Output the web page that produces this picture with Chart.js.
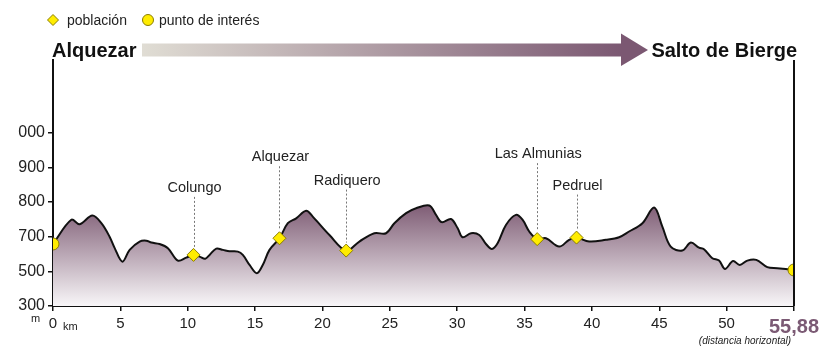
<!DOCTYPE html>
<html>
<head>
<meta charset="utf-8">
<script src="https://cdn.jsdelivr.net/npm/chart.js@4.4.0/dist/chart.umd.min.js"></script>
<style>
  html, body { margin: 0; padding: 0; background: #fff; }
</style>
</head>
<body>
<canvas id="perfil" width="823" height="347"></canvas>
<script>
// perfil de la etapa: distancia (km) y altitud (m)
var distancias = [0, 1.36, 1.98, 2.92, 3.59, 4.20, 4.58, 5.15, 5.69, 6.43, 6.93, 7.30, 7.91, 8.53, 9.27, 9.89,
  10.43, 10.88, 11.30, 11.62, 12.12, 12.61, 13.10, 13.72, 14.09, 14.59, 15.13, 15.57, 16.07, 16.81, 17.43,
  18.05, 18.79, 19.28, 20.52, 21.76, 22.74, 23.85, 24.72, 25.34, 26.21, 26.95, 27.93, 28.43, 28.85, 29.54,
  30.03, 30.40, 31.03, 31.64, 32.14, 32.58, 33.00, 33.62, 34.36, 34.85, 35.35, 35.94, 36.59, 37.57, 38.31,
  38.86, 39.80, 41.04, 42.02, 42.76, 43.75, 44.62, 45.23, 45.85, 46.71, 47.34, 47.95, 48.32, 48.94, 49.44,
  49.88, 50.56, 51.14, 51.81, 52.59, 53.55, 54.42, 55.88];
var altitudes = [658, 749, 736, 761, 739, 700, 634, 556, 624, 672, 677, 666, 658, 634, 562, 579,
  595, 585, 573, 595, 631, 624, 616, 614, 595, 537, 489, 537, 624, 691, 739,
  753, 775, 758, 705, 620, 672, 710, 710, 739, 768, 782, 790, 763, 742, 751,
  725, 697, 710, 705, 658, 629, 662, 734, 763, 749, 715, 686, 691, 643, 682,
  695, 672, 682, 697, 715, 739, 784, 729, 643, 620, 666, 637, 628, 576, 562,
  514, 560, 537, 562, 566, 524, 518, 508];

// marcas de los ejes (valor real y texto)
var ejeY = [300, 500, 700, 800, 900, 1000];
var ejeYTexto = ["300", "500", "700", "800", "900", "000"];
var ejeX = [0, 5, 10, 15, 20, 25, 30, 35, 40, 45, 50, 55.88];
var ejeXTexto = ["0", "5", "10", "15", "20", "25", "30", "35", "40", "45", "50", "55,88"];

// poblaciones del recorrido
var poblaciones = ["Colungo", "Alquezar", "Radiquero", "Las Almunias", "Pedruel"];
var poblacionesKm = [10.43, 16.81, 21.76, 35.94, 38.86];
var poblacionesAlt = [595, 691, 620, 686, 695];

// puntos de interés (salida y llegada)
var puntosKm = [0, 55.88];
var puntosAlt = [658, 508];

var inicio = "Alquezar";
var fin = "Salto de Bierge";
var leyenda = ["población", "punto de interés"];

var FUENTE = "'Liberation Sans', Arial, sans-serif";
var MORADO = "#7b5872";
var AMARILLO = "#ffec00";

// los ejes no son lineales: cada tramo entre marcas ocupa lo mismo
function tramo(v, marcas) {
  for (var i = 1; i < marcas.length; i++) {
    if (v <= marcas[i] || i === marcas.length - 1) {
      return i - 1 + (v - marcas[i - 1]) / (marcas[i] - marcas[i - 1]);
    }
  }
}
function puntos(kms, alts) {
  return kms.map(function (k, i) {
    return { x: tramo(k, ejeX), y: tramo(alts[i], ejeY) };
  });
}

// separación (px) entre cada rótulo y su marca
var alturaRotulo = [63, 77, 66, 81, 48];

var extras = {
  id: "extras",
  afterDatasetsDraw: function (chart) {
    var ctx = chart.ctx, a = chart.chartArea;
    var sx = chart.scales.x, sy = chart.scales.y;
    ctx.save();

    // rótulos de poblaciones con línea de puntos
    ctx.font = "14.5px " + FUENTE;
    ctx.fillStyle = "#222";
    ctx.textAlign = "center";
    ctx.textBaseline = "alphabetic";
    poblaciones.forEach(function (n, i) {
      var px = sx.getPixelForValue(tramo(poblacionesKm[i], ejeX));
      var py = sy.getPixelForValue(tramo(poblacionesAlt[i], ejeY));
      var base = py - alturaRotulo[i];
      ctx.fillText(n, px + 1, base);
      ctx.beginPath();
      ctx.setLineDash([2, 2]);
      ctx.strokeStyle = "#777";
      ctx.lineWidth = 1;
      ctx.moveTo(Math.round(px) + 0.5, base + 5);
      ctx.lineTo(Math.round(px) + 0.5, py - 8);
      ctx.stroke();
      ctx.setLineDash([]);
    });
    ctx.restore();
  },
  afterDraw: function (chart) {
    var ctx = chart.ctx, a = chart.chartArea;
    var sx = chart.scales.x;
    ctx.save();

    // eje derecho
    ctx.strokeStyle = "#111";
    ctx.lineWidth = 2;
    ctx.beginPath();
    ctx.moveTo(a.right, a.top);
    ctx.lineTo(a.right, a.bottom);
    ctx.stroke();

    // leyenda
    ctx.fillStyle = AMARILLO;
    ctx.strokeStyle = "#8a7c00";
    ctx.lineWidth = 1;
    ctx.beginPath();
    ctx.moveTo(53, 14.5); ctx.lineTo(58.5, 20); ctx.lineTo(53, 25.5); ctx.lineTo(47.5, 20);
    ctx.closePath(); ctx.fill(); ctx.stroke();
    ctx.beginPath();
    ctx.arc(148, 20, 5.5, 0, Math.PI * 2);
    ctx.fill(); ctx.stroke();
    ctx.fillStyle = "#222";
    ctx.font = "14px " + FUENTE;
    ctx.textAlign = "left";
    ctx.fillText(leyenda[0], 67, 25);
    ctx.fillText(leyenda[1], 159, 25);

    // salida, llegada y flecha
    ctx.font = "bold 20px " + FUENTE;
    ctx.fillStyle = "#111";
    ctx.fillText(inicio, 52, 57);
    ctx.textAlign = "right";
    ctx.fillText(fin, 797, 57);
    var g = ctx.createLinearGradient(142, 0, 622, 0);
    g.addColorStop(0, "#e0ddd4");
    g.addColorStop(1, MORADO);
    ctx.fillStyle = g;
    ctx.fillRect(142, 43.5, 480, 13);
    ctx.fillStyle = MORADO;
    ctx.beginPath();
    ctx.moveTo(621, 33.5); ctx.lineTo(648, 50); ctx.lineTo(621, 66);
    ctx.closePath(); ctx.fill();

    // unidades
    ctx.fillStyle = "#222";
    ctx.textAlign = "left";
    ctx.font = "11px " + FUENTE;
    ctx.fillText("km", sx.getPixelForValue(0) + 10, 330);
    ctx.fillText("m", 31, 322);
    ctx.textAlign = "center";
    ctx.font = "italic 10px " + FUENTE;
    ctx.fillText("(distancia horizontal)", 745, 344);
    ctx.restore();
  }
};

var ultimo = ejeX.length - 1;

new Chart(document.getElementById("perfil").getContext("2d"), {
  type: "line",
  data: {
    datasets: [
      {
        label: "perfil",
        data: puntos(distancias, altitudes),
        borderColor: "#111",
        borderWidth: 2,
        pointRadius: 0,
        tension: 0.35,
        fill: "start",
        order: 3,
        backgroundColor: function (c) {
          var ch = c.chart, a = ch.chartArea;
          if (!a) return "rgba(0,0,0,0)";
          var top = ch.scales.y.getPixelForValue(tramo(800, ejeY));
          var g = ch.ctx.createLinearGradient(0, top, 0, a.bottom);
          g.addColorStop(0, "#7b5871");
          g.addColorStop(1, "#f8f6f8");
          return g;
        }
      },
      {
        label: "población",
        type: "scatter",
        data: puntos(poblacionesKm, poblacionesAlt),
        pointStyle: "rectRot",
        pointRadius: 6.5,
        backgroundColor: AMARILLO,
        borderColor: "#8a7c00",
        borderWidth: 1,
        order: 1
      },
      {
        label: "punto de interés",
        type: "scatter",
        data: puntos(puntosKm, puntosAlt),
        pointStyle: "circle",
        pointRadius: 6,
        backgroundColor: AMARILLO,
        borderColor: "#8a7c00",
        borderWidth: 1,
        order: 1
      }
    ]
  },
  options: {
    responsive: false,
    animation: false,
    layout: { padding: { top: 60, right: 28, left: 0, bottom: 0 } },
    plugins: { legend: { display: false }, tooltip: { enabled: false } },
    scales: {
      x: {
        type: "linear",
        min: 0,
        max: ultimo,
        afterBuildTicks: function (s) { s.ticks = ejeX.map(function (v, i) { return { value: i }; }); },
        afterFit: function (s) { s.height = 41; },
        ticks: {
          autoSkip: false,
          maxRotation: 0,
          padding: 4,
          callback: function (v, i) { return ejeXTexto[i]; },
          color: function (c) { return c.index === ultimo ? "#7b5a74" : "#222"; },
          font: function (c) {
            return c.index === ultimo ? { family: FUENTE, size: 20, weight: "bold" } : { family: FUENTE, size: 15 };
          }
        },
        grid: { drawOnChartArea: false, tickLength: 5, color: "#111", lineWidth: 1.5 },
        border: { color: "#111", width: 2 }
      },
      y: {
        type: "linear",
        min: 0,
        max: 7.1,
        afterBuildTicks: function (s) { s.ticks = ejeY.map(function (v, i) { return { value: i }; }); },
        afterFit: function (s) { s.width = 53; },
        ticks: {
          padding: 3,
          color: "#222",
          font: { family: FUENTE, size: 16 },
          callback: function (v, i) { return ejeYTexto[i]; }
        },
        grid: { drawOnChartArea: false, tickLength: 5, color: "#111", lineWidth: 1.5 },
        border: { color: "#111", width: 2 }
      }
    }
  },
  plugins: [extras]
});
</script>
</body>
</html>
